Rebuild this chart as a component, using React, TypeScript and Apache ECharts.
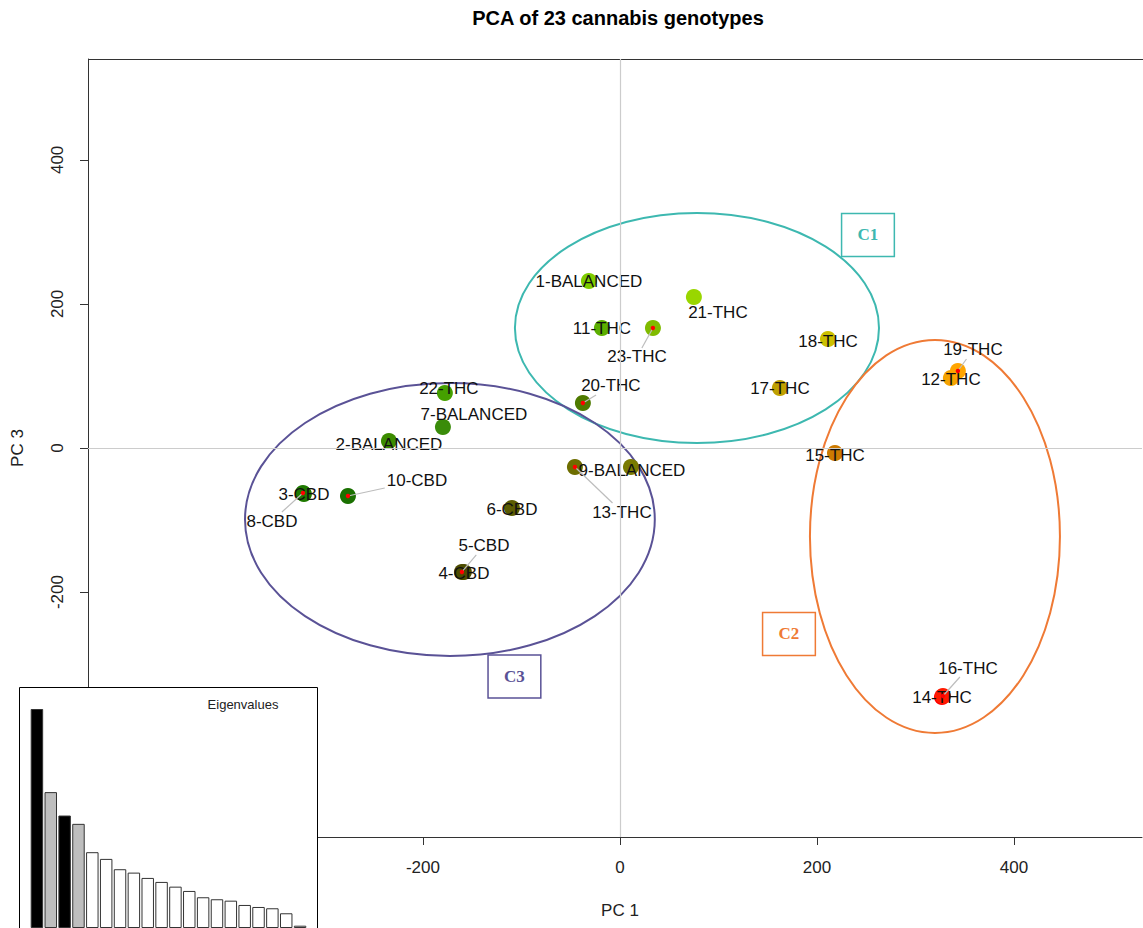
import React, { useEffect, useRef } from "react";
import * as echarts from "echarts";

// ---- data ----
const IDS = [1, 2, 3, 4, 5, 6, 7, 8, 9, 10, 11, 12, 13, 14, 15, 16, 17, 18, 19, 20, 21, 22, 23];
const GROUPS = [
  "BALANCED", "BALANCED", "CBD", "CBD", "CBD", "CBD", "BALANCED", "CBD", "BALANCED", "CBD",
  "THC", "THC", "THC", "THC", "THC", "THC", "THC", "THC", "THC", "THC", "THC", "THC", "THC",
];
const PC1 = [-31.5, -234.5, -320.8, -158.4, -160.4, -109.6, -179.7, -321.8, 11.2, -276.1, -18.3, 336.0, -45.7, 326.9, 218.3, 327.9, 162.4, 211.2, 343.1, -37.6, 75.1, -177.7, 33.5];
const PC3 = [231.8, 9.7, -63.9, -172.1, -172.1, -83.3, 29.2, -62.5, -26.4, -66.6, 166.6, 97.2, -26.4, -345.6, -6.9, -344.3, 83.3, 151.3, 106.9, 62.5, 209.6, 76.3, 166.6];
const POINT_COLORS = [
  "#7FCC00", "#3C8C00", "#1F7A00", "#4D4D00", "#4D4D00", "#5C5C00", "#3A8C0A", "#1F7A00", "#7A7A00", "#1A7000",
  "#5CAF00", "#F5A300", "#6E6E00", "#FF0000", "#CC7A00", "#FF1A00", "#BFA000", "#CCC000", "#FFA500", "#4E7A00",
  "#99D600", "#45A000", "#80BB00",
];
// label displacement (pixels) from each point
const LABEL_OFFSETS = [
  [0, 0], [0, 3], [0, 0], [0, 2], [22, -26], [0, 1], [31, -12], [-31, 28], [1, 3], [69, -15],
  [0, 1], [0, 2], [47, 45], [0, 1], [0, 3], [25, -28], [0, 1], [0, 2], [15, -21], [28, -17],
  [24, 15], [4, -5], [-16, 29],
];
const CONNECTED = [5, 8, 10, 13, 16, 19, 20, 23];

// cluster ellipses: centre x, centre y, radius x, radius y (data units)
const CLUSTERS = ["C1", "C2", "C3"];
const CLUSTER_CX = [78.2, 319.8, -172.6];
const CLUSTER_CY = [166.6, -122.8, -99.3];
const CLUSTER_RX = [184.8, 126.9, 208.0];
const CLUSTER_RY = [159.6, 272.8, 189.5];
const CLUSTER_LABEL_X = [251.8, 171.6, -107.1];
const CLUSTER_LABEL_Y = [295.7, -258.2, -317.2];
const CLUSTER_COLORS = ["#3DB8B0", "#EF7A35", "#5A5296"];

const AXIS_TICKS = [-400, -200, 0, 200, 400];

const EIGENVALUES = [218.7, 135.7, 112.3, 104, 75.7, 69, 58.7, 55.3, 50, 46, 41.3, 37, 30.7, 28.7, 27.3, 23, 21, 19.7, 14.7, 2.3];
const EIG_COLORS = ["#000000", "#BEBEBE", "#000000", "#BEBEBE"];

const FONT = "'Liberation Sans', Arial, sans-serif";

export default function App() {
  const ref = useRef<HTMLDivElement>(null);

  useEffect(() => {
    document.body.style.margin = "0";
    const chart = echarts.init(ref.current!, null, { renderer: "svg" });

    const canvas = document.createElement("canvas");
    const ctx = canvas.getContext("2d")!;
    ctx.font = "17px " + FONT;

    const labels = IDS.map((id, i) => `${id}-${GROUPS[i]}`);

    const pointData = IDS.map((id, i) => ({
      name: labels[i],
      value: [PC1[i], PC3[i]],
      itemStyle: { color: POINT_COLORS[i], opacity: 1 },
      label: { offset: LABEL_OFFSETS[i] },
    }));

    const connectorData = CONNECTED.map((id) => {
      const i = id - 1;
      const hw = ctx.measureText(labels[i]).width / 2 + 2;
      return [PC1[i], PC3[i], LABEL_OFFSETS[i][0], LABEL_OFFSETS[i][1], hw];
    });

    const ellipseData = CLUSTERS.map((c, i) => [CLUSTER_CX[i], CLUSTER_CY[i], CLUSTER_RX[i], CLUSTER_RY[i], i]);

    const clusterLabelData = CLUSTERS.map((c, i) => ({
      name: c,
      value: [CLUSTER_LABEL_X[i], CLUSTER_LABEL_Y[i]],
      label: {
        color: CLUSTER_COLORS[i],
        borderColor: CLUSTER_COLORS[i],
      },
    }));

    const option: any = {
      animation: false,
      backgroundColor: "#ffffff",
      grid: [
        {
          left: 88,
          top: 59,
          right: 1,
          height: 778,
          show: false,
        },
        { left: 30, top: 709, width: 277, height: 219 },
      ],
      xAxis: [
        {
          type: "value",
          gridIndex: 0,
          min: -540,
          max: 530,
          splitLine: { show: false },
          axisLine: { show: true, onZero: false, lineStyle: { color: "#333333" } },
          axisTick: { show: true, length: 8, customValues: AXIS_TICKS, lineStyle: { color: "#333333" } },
          axisLabel: {
            customValues: AXIS_TICKS,
            margin: 22,
            fontSize: 17,
            color: "#222222",
            fontFamily: FONT,
          },
        },
        {
          type: "category",
          gridIndex: 1,
          data: EIGENVALUES.map((v, i) => String(i + 1)),
          axisLine: { show: false },
          axisTick: { show: false },
          axisLabel: { show: false },
          splitLine: { show: false },
        },
      ],
      yAxis: [
        {
          type: "value",
          gridIndex: 0,
          min: -540,
          max: 540,
          splitLine: { show: false },
          axisLine: { show: true, onZero: false, lineStyle: { color: "#333333" } },
          axisTick: { show: true, length: 8, customValues: AXIS_TICKS, lineStyle: { color: "#333333" } },
          axisLabel: {
            customValues: AXIS_TICKS,
            rotate: 90,
            margin: 22,
            fontSize: 17,
            color: "#222222",
            fontFamily: FONT,
          },
        },
        {
          type: "value",
          gridIndex: 1,
          min: 0,
          max: 218.7,
          show: false,
        },
      ],
      graphic: [
        {
          type: "line",
          shape: { x1: 88, y1: 59.5, x2: 1143, y2: 59.5 },
          style: { stroke: "#333333", lineWidth: 1 },
        },
        {
          type: "text",
          x: 618,
          y: 18,
          style: {
            text: "PCA of 23 cannabis genotypes",
            font: "bold 20px " + FONT,
            fill: "#000000",
            textAlign: "center",
            textVerticalAlign: "middle",
          },
        },
        {
          type: "text",
          x: 620,
          y: 910,
          style: {
            text: "PC 1",
            font: "17px " + FONT,
            fill: "#222222",
            textAlign: "center",
            textVerticalAlign: "middle",
          },
        },
        {
          type: "text",
          x: 17,
          y: 448,
          rotation: Math.PI / 2,
          style: {
            text: "PC 3",
            font: "17px " + FONT,
            fill: "#222222",
            textAlign: "center",
            textVerticalAlign: "middle",
          },
        },
        {
          type: "rect",
          z: 100,
          shape: { x: 19.5, y: 687.5, width: 298, height: 260 },
          style: { fill: "#ffffff", stroke: "#000000", lineWidth: 1 },
        },
        {
          type: "text",
          z: 110,
          x: 243,
          y: 704,
          style: {
            text: "Eigenvalues",
            font: "13px " + FONT,
            fill: "#222222",
            textAlign: "center",
            textVerticalAlign: "middle",
          },
        },
      ],
      series: [
        {
          type: "custom",
          name: "ellipses",
          xAxisIndex: 0,
          yAxisIndex: 0,
          z: 2,
          silent: true,
          data: ellipseData,
          renderItem: (params: any, api: any) => {
            const c = api.coord([api.value(0), api.value(1)]);
            const s = api.size([api.value(2), api.value(3)]);
            const idx = api.value(4);
            return {
              type: "ellipse",
              shape: { cx: c[0], cy: c[1], rx: s[0], ry: s[1] },
              style: { fill: "none", stroke: CLUSTER_COLORS[idx], lineWidth: 2 },
            };
          },
          markLine: {
            silent: true,
            symbol: "none",
            label: { show: false },
            lineStyle: { color: "#cccccc", type: "solid", width: 1.2 },
            data: [{ xAxis: 0 }, { yAxis: 0 }],
          },
        },
        {
          type: "scatter",
          name: "genotypes",
          xAxisIndex: 0,
          yAxisIndex: 0,
          z: 3,
          symbol: "circle",
          symbolSize: 16,
          itemStyle: { opacity: 1 },
          data: pointData,
          label: {
            show: true,
            position: "inside",
            formatter: (p: any) => p.name,
            fontSize: 17,
            fontFamily: FONT,
            color: "#111111",
            textBorderWidth: 0,
          },
        },
        {
          type: "custom",
          name: "connectors",
          xAxisIndex: 0,
          yAxisIndex: 0,
          z: 4,
          silent: true,
          data: connectorData,
          renderItem: (params: any, api: any) => {
            const p = api.coord([api.value(0), api.value(1)]);
            const dx = api.value(2);
            const dy = api.value(3);
            const hw = api.value(4);
            const hh = 9;
            let t = 0;
            if (Math.abs(dx) > 0) t = Math.max(t, 1 - hw / Math.abs(dx));
            if (Math.abs(dy) > 0) t = Math.max(t, 1 - hh / Math.abs(dy));
            const children: any[] = [];
            if (t > 0.05) {
              children.push({
                type: "line",
                shape: { x1: p[0], y1: p[1], x2: p[0] + dx * t, y2: p[1] + dy * t },
                style: { stroke: "#bdbdbd", lineWidth: 1.2 },
              });
            }
            children.push({
              type: "circle",
              shape: { cx: p[0], cy: p[1], r: 2.2 },
              style: { fill: "#ff0000" },
            });
            return { type: "group", children };
          },
        },
        {
          type: "scatter",
          name: "clusters",
          xAxisIndex: 0,
          yAxisIndex: 0,
          z: 5,
          symbolSize: 1,
          itemStyle: { color: "rgba(0,0,0,0)", opacity: 1 },
          data: clusterLabelData,
          label: {
            show: true,
            position: "inside",
            formatter: (p: any) => p.name,
            fontFamily: "'Liberation Serif', 'Times New Roman', serif",
            fontWeight: "bold",
            fontSize: 17,
            textBorderWidth: 0,
            borderWidth: 1.5,
            padding: [13, 16, 13, 16],
          },
        },
        {
          type: "bar",
          name: "eigenvalues",
          xAxisIndex: 1,
          yAxisIndex: 1,
          z: 105,
          barCategoryGap: "10%",
          silent: true,
          data: EIGENVALUES.map((v, i) => ({
            value: v,
            itemStyle: {
              color: EIG_COLORS[i] || "#ffffff",
              borderColor: "#333333",
              borderWidth: 1,
            },
          })),
        },
      ],
    };

    chart.setOption(option);
    return () => chart.dispose();
  }, []);

  return <div ref={ref} style={{ width: 1143, height: 928 }} />;
}
